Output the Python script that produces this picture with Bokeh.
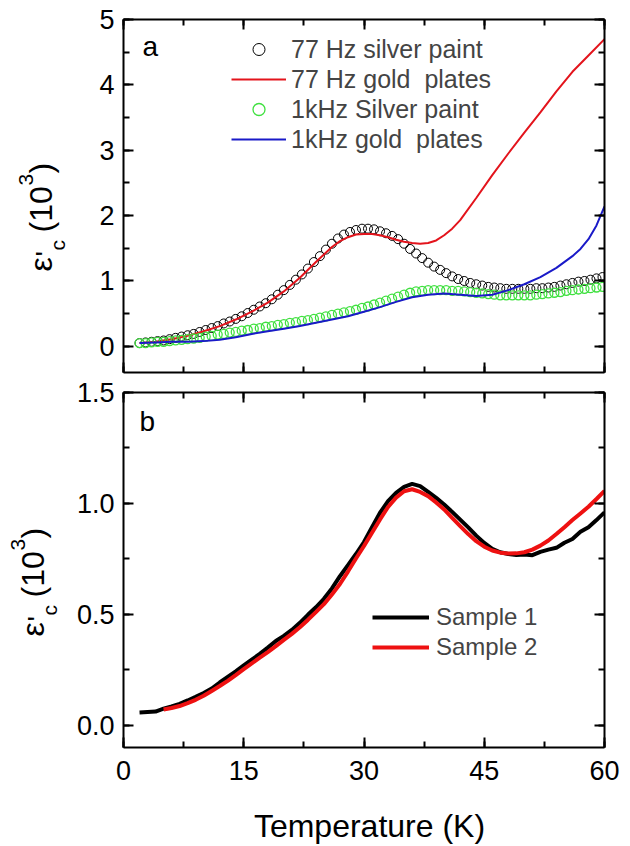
from math import pi
from bokeh.plotting import figure
from bokeh.models import (LinearAxis, SingleIntervalTicker, CustomJSTickFormatter, Label,
                          Legend, LegendItem, Range1d, NumeralTickFormatter, ColumnDataSource)
from bokeh.core.properties import value
from bokeh.layouts import column, row
from bokeh.embed import file_html
from bokeh.resources import INLINE

# ---------------- data (panel a) ----------------
circ_T = [2, 2.75, 3.5, 4.25, 5, 5.75, 6.5, 7.25, 8, 8.75, 9.5, 10.25, 11, 11.75, 12.5, 13.25,
          14, 14.75, 15.5, 16.25, 17, 17.75, 18.5, 19.25, 20, 20.75, 21.5, 22.25, 23, 23.75,
          24.5, 25.25, 26, 26.75, 27.5, 28.25, 29, 29.75, 30.5, 31.25, 32, 32.75, 33.5, 34.25,
          35, 35.75, 36.5, 37.25, 38, 38.75, 39.5, 40.25, 41, 41.75, 42.5, 43.25, 44, 44.75,
          45.5, 46.25, 47, 47.75, 48.5, 49.25, 50, 50.75, 51.5, 52.25, 53, 53.75, 54.5, 55.25,
          56, 56.75, 57.5, 58.25, 59, 59.75]
silver_77 = [0.05, 0.06, 0.07, 0.08, 0.09, 0.11, 0.13, 0.15, 0.17, 0.19, 0.22, 0.25, 0.28, 0.31,
             0.35, 0.38, 0.42, 0.46, 0.51, 0.56, 0.61, 0.66, 0.72, 0.79, 0.86, 0.94, 1.02, 1.10,
             1.19, 1.29, 1.38, 1.48, 1.57, 1.65, 1.71, 1.75, 1.78, 1.80, 1.80, 1.79, 1.76, 1.73,
             1.69, 1.64, 1.57, 1.49, 1.42, 1.35, 1.28, 1.22, 1.17, 1.12, 1.07, 1.03, 1.00, 0.97,
             0.95, 0.93, 0.91, 0.90, 0.89, 0.88, 0.88, 0.88, 0.88, 0.88, 0.89, 0.89, 0.90, 0.91,
             0.93, 0.95, 0.97, 0.99, 1.00, 1.02, 1.04, 1.06]
silver_1k = [0.05, 0.05, 0.06, 0.07, 0.07, 0.08, 0.09, 0.10, 0.11, 0.12, 0.13, 0.15, 0.16, 0.18,
             0.19, 0.21, 0.22, 0.24, 0.25, 0.27, 0.28, 0.30, 0.31, 0.33, 0.34, 0.36, 0.37, 0.39,
             0.40, 0.42, 0.44, 0.46, 0.48, 0.50, 0.52, 0.54, 0.56, 0.59, 0.61, 0.64, 0.67, 0.70,
             0.73, 0.76, 0.79, 0.82, 0.84, 0.85, 0.86, 0.86, 0.86, 0.86, 0.85, 0.85, 0.84, 0.83,
             0.82, 0.81, 0.80, 0.79, 0.78, 0.78, 0.78, 0.78, 0.78, 0.78, 0.79, 0.80, 0.81, 0.82,
             0.83, 0.85, 0.86, 0.87, 0.88, 0.89, 0.90, 0.91]

gold77_T = [2, 4, 6, 8, 10, 12, 14, 16, 18, 20, 22, 24, 26, 27, 28, 29, 30, 31, 32, 33, 34, 35,
            36, 37, 38, 39, 40, 41, 42, 44, 46, 48, 50, 52, 54, 56, 58, 60]
gold_77 = [0.05, 0.07, 0.11, 0.16, 0.23, 0.31, 0.41, 0.53, 0.67, 0.84, 1.05, 1.29, 1.52, 1.61,
           1.67, 1.71, 1.72, 1.72, 1.70, 1.67, 1.63, 1.60, 1.58, 1.57, 1.58, 1.62, 1.70, 1.80,
           1.93, 2.27, 2.62, 2.95, 3.27, 3.58, 3.90, 4.20, 4.45, 4.70]

gold1k_T = [2, 4, 6, 8, 10, 12, 14, 16, 18, 20, 22, 24, 26, 28, 30, 32, 34, 36, 38, 40, 42, 44,
            46, 48, 50, 52, 54, 56, 57, 58, 59, 60]
gold_1k = [0.05, 0.06, 0.07, 0.07, 0.08, 0.10, 0.14, 0.19, 0.23, 0.27, 0.31, 0.36, 0.41, 0.46,
           0.53, 0.60, 0.68, 0.75, 0.79, 0.81, 0.79, 0.77, 0.79, 0.86, 0.95, 1.06, 1.20, 1.38,
           1.49, 1.64, 1.85, 2.14]

# ---------------- data (panel b) ----------------
s1_T = list(range(2, 61))
sample_1 = [0.058, 0.060, 0.062, 0.075, 0.085, 0.097, 0.112, 0.128, 0.146, 0.166, 0.193, 0.218,
            0.243, 0.270, 0.296, 0.322, 0.350, 0.380, 0.403, 0.430, 0.462, 0.498, 0.532, 0.570,
            0.617, 0.672, 0.722, 0.772, 0.826, 0.893, 0.958, 1.010, 1.048, 1.075, 1.088, 1.078,
            1.052, 1.025, 0.995, 0.962, 0.927, 0.892, 0.855, 0.822, 0.795, 0.780, 0.772, 0.768,
            0.770, 0.767, 0.782, 0.792, 0.800, 0.823, 0.840, 0.872, 0.893, 0.925, 0.960]
s2_T = list(range(5, 61))
sample_2 = [0.071, 0.078, 0.087, 0.100, 0.115, 0.133, 0.155, 0.177, 0.200, 0.226, 0.253, 0.279,
            0.305, 0.330, 0.357, 0.385, 0.412, 0.442, 0.475, 0.510, 0.546, 0.590, 0.637, 0.693,
            0.752, 0.808, 0.868, 0.928, 0.984, 1.026, 1.055, 1.064, 1.052, 1.033, 1.004, 0.973,
            0.935, 0.898, 0.862, 0.830, 0.805, 0.788, 0.778, 0.774, 0.775, 0.780, 0.792, 0.810,
            0.833, 0.862, 0.893, 0.925, 0.955, 0.985, 1.020, 1.056]

FONT = "Liberation Sans"
FW = 481
X0, X1 = 0, 60
LW = 72          # width of the strip that holds the rotated y label
BL = 51          # left border of the plot figures
BR = 17
OFF = 1          # page offset of the layout

# advance widths (em) used only to centre the pieces of the rotated label
ADV = {"ε": 0.45, "'": 0.19, "c": 0.5, "(10": 1.445, "3": 0.556, ")": 0.333}


def style_axis(ax, ticker, labels=True):
    ax.ticker = ticker
    ax.axis_line_width = 2
    ax.axis_line_color = "black"
    ax.major_tick_line_width = 2
    ax.minor_tick_line_width = 2
    ax.major_tick_in = 10
    ax.major_tick_out = 0
    ax.minor_tick_in = 6
    ax.minor_tick_out = 0
    ax.major_label_text_font = FONT
    ax.major_label_text_color = "black"
    if labels:
        ax.major_label_text_font_size = "27px"
    else:
        ax.formatter = CustomJSTickFormatter(code="return ''")
        ax.major_label_text_font_size = "1px"
        ax.major_label_standoff = 0


def make_fig(y0, y1, fh, top, bottom, ystep, xlabels):
    p = figure(frame_width=FW, frame_height=fh, x_range=Range1d(X0, X1), y_range=Range1d(y0, y1),
               output_backend="svg", toolbar_location=None, title=None,
               x_axis_location=None, y_axis_location=None,
               min_border_left=BL, min_border_right=BR, min_border_top=top,
               min_border_bottom=bottom, background_fill_color="white",
               border_fill_color="white", outline_line_color=None)
    p.xgrid.visible = False
    p.ygrid.visible = False
    below, left, above, right = LinearAxis(), LinearAxis(), LinearAxis(), LinearAxis()
    p.add_layout(below, "below")
    p.add_layout(left, "left")
    p.add_layout(above, "above")
    p.add_layout(right, "right")
    style_axis(below, SingleIntervalTicker(interval=15, num_minor_ticks=2), labels=xlabels)
    style_axis(above, SingleIntervalTicker(interval=15, num_minor_ticks=2), labels=False)
    style_axis(right, SingleIntervalTicker(interval=ystep, num_minor_ticks=2), labels=False)
    style_axis(left, SingleIntervalTicker(interval=ystep, num_minor_ticks=2))
    left.major_label_standoff = 9
    return p, below, left


def blank_fig(w, h):
    f = figure(frame_width=w, frame_height=h, x_range=Range1d(0, w), y_range=Range1d(0, h),
               output_backend="svg", toolbar_location=None, title=None, x_axis_location=None,
               y_axis_location=None, min_border_left=0, min_border_right=0, min_border_top=0,
               min_border_bottom=0, outline_line_color=None,
               background_fill_color="white", border_fill_color="white")
    f.xgrid.visible = False
    f.ygrid.visible = False
    return f


def label_strip(height, row_top, xb, yb):
    """Rotated y label  ε'c (10^3)  built from centred pieces; xb, yb are page pixels
    (baseline x and start y of the label)."""
    f = blank_fig(LW, height)
    # text, font px, start offset along the text, baseline shift (+ = subscript)
    pieces = [("ε", 32, 0, 0), ("'", 28, 15, 3), ("c", 21, 21, 12),
              ("(10", 32, 39, 0), ("3", 21, 86, -19), (")", 32, 98, 0)]
    xs, ys, ts, fss = [], [], [], []
    for t, fs, a, s in pieces:
        centre_y = yb - a - ADV[t] * fs / 2          # page y of the piece centre
        centre_x = xb + s - 0.35 * fs                 # page x of the em-box middle
        xs.append(centre_x - OFF)
        ys.append(row_top + height - centre_y)
        ts.append(t)
        fss.append(f"{fs}px")
    src = ColumnDataSource(dict(x=xs, y=ys, t=ts, fs=fss))
    f.text(x="x", y="y", text="t", text_font_size="fs", source=src, angle=pi / 2,
           text_font=value(FONT), text_color="black", text_align="center",
           text_baseline="middle")
    return f


# ---------------- panel a ----------------
FH1 = 353
YA0, YA1 = -0.4, 5
TOP1, BOT1 = 19, 3
p1, p1_below, p1_left = make_fig(YA0, YA1, FH1, TOP1, BOT1, 1, xlabels=False)
p1_left.formatter = NumeralTickFormatter(format="0")

r1 = p1.scatter(circ_T, silver_77, marker="circle", size=9, fill_color=None,
                line_color="black", line_width=1)
r2 = p1.line(gold77_T, gold_77, line_color="#e3141c", line_width=2)
r3 = p1.scatter(circ_T, silver_1k, marker="circle", size=9, fill_color=None,
                line_color="#3fe03f", line_width=1.3)
r4 = p1.line(gold1k_T, gold_1k, line_color="#1a1ac8", line_width=2)

leg1 = Legend(items=[LegendItem(label="77 Hz silver paint", renderers=[r1]),
                     LegendItem(label="77 Hz gold  plates", renderers=[r2]),
                     LegendItem(label="1kHz Silver paint", renderers=[r3]),
                     LegendItem(label="1kHz gold  plates", renderers=[r4])],
              location=(108, 218), label_text_font=FONT, label_text_font_size="25px",
              label_height=30, glyph_height=30, glyph_width=55, label_standoff=5,
              spacing=0, padding=0, margin=0, border_line_color=None,
              background_fill_alpha=0)
p1.add_layout(leg1)

tx1 = lambda px: X0 + (px - 124) * (X1 - X0) / FW
ty1 = lambda py: YA1 - (py - 20) * (YA1 - YA0) / FH1
p1.add_layout(Label(x=tx1(143), y=ty1(47), text="a", text_font=FONT, text_font_size="28px",
                    text_color="black", text_baseline="alphabetic"))
H1 = TOP1 + FH1 + BOT1
s1 = label_strip(H1, OFF, 53, 253)

# ---------------- panel b ----------------
FH2 = 355
YB0, YB1 = -0.1, 1.5
TOP2, BOT2 = 17, 54
p2, p2_below, p2_left = make_fig(YB0, YB1, FH2, TOP2, BOT2, 0.5, xlabels=True)
p2_below.major_label_standoff = 13
p2_left.formatter = NumeralTickFormatter(format="0.0")

q1 = p2.line(s1_T, sample_1, line_color="black", line_width=4)
q2 = p2.line(s2_T, sample_2, line_color="#ee1111", line_width=4)
leg2 = Legend(items=[LegendItem(label="Sample 1", renderers=[q1]),
                     LegendItem(label="Sample 2", renderers=[q2])],
              location=(249, 85), label_text_font=FONT, label_text_font_size="24px",
              label_height=30, glyph_height=30, glyph_width=57, label_standoff=7,
              spacing=0, padding=0, margin=0, border_line_color=None,
              background_fill_alpha=0)
p2.add_layout(leg2)

tx2 = lambda px: X0 + (px - 124) * (X1 - X0) / FW
ty2 = lambda py: YB1 - (py - 393) * (YB1 - YB0) / FH2
p2.add_layout(Label(x=tx2(140), y=ty2(422), text="b", text_font=FONT, text_font_size="28px",
                    text_color="black", text_baseline="alphabetic"))
H2 = TOP2 + FH2 + BOT2
s2 = label_strip(H2, OFF + H1, 45, 620)

# ---------------- x-axis title strip ----------------
XW = LW + BL + FW + BR
XTOP = OFF + H1 + H2
XH = 845 - XTOP
xf = blank_fig(XW, XH)
xf.text(x=[370 - OFF], y=[XTOP + XH - 826], text=["Temperature (K)"], text_font=value(FONT),
        text_font_size=value("32px"), text_color="black", text_align="center",
        text_baseline="middle")

layout = column(row(s1, p1, spacing=0), row(s2, p2, spacing=0), xf, spacing=0)
open("out.html", "w").write(file_html(layout, INLINE))
